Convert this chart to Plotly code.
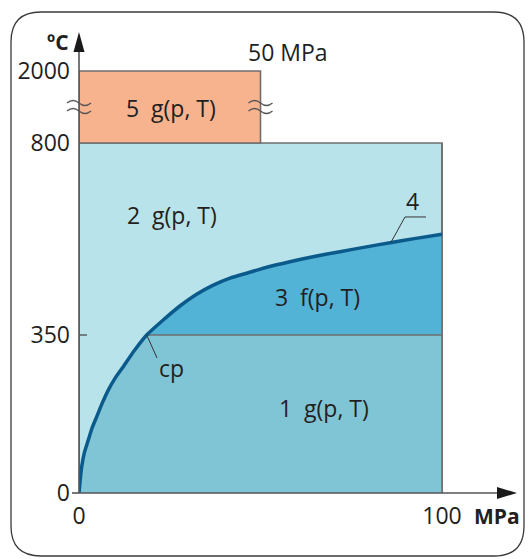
import numpy as np
import plotly.graph_objects as go

# ---------------- data ----------------
# temperature axis is broken: real temperatures -> schematic display scale
T_breaks = [0, 350, 800, 2000]          # °C tick values
T_disp = [0, 158, 350, 422]             # schematic scale positions
y_ticktext = ["0", "350", "800", "2000"]
p_ticks = [0, 100]
p_ticktext = ["0", "100"]

# saturation line (region 4) up to the 350 °C level, then B23 boundary
sat_p = [0.0, 0.35, 0.74, 1.5, 2.56, 3.6, 4.88, 6.4, 8.07, 10.0, 12.2, 15.2, 18.65]
sat_T = [0.0, 30.0, 58.3, 90.0, 117.4, 144.0, 169.0, 199.0, 228.0, 255.0, 279.8, 315.0, 350.0]
b23_p = [18.65, 23.2, 27.8, 32.4, 37.0, 41.6, 46.6, 52.0, 58.1, 64.8, 71.9, 78.8, 85.7, 92.8, 100.0]
b23_T = [350.0, 385.2, 418.0, 445.5, 467.0, 483.5, 496.0, 509.5, 521.8, 534.0, 545.3, 556.0, 566.4, 576.5, 586.0]

p_max = 100      # MPa, regions 1-3
p_max5 = 50      # MPa, region 5
T_max = 800      # °C, regions 1-3
T_max5 = 2000    # °C, region 5
T_13 = 350       # boundary region 1 / 3

labels = ["5&#160; g(p, T)", "2&#160; g(p, T)", "3&#160; f(p, T)", "1&#160; g(p, T)", "cp", "4", "50 MPa"]
label_p = [25.3, 25.6, 65.8, 67.4, 25.6, 92.0, 57.6]
label_T = [1383, 631, 438, 189, 277, 664, 2000]

# ---------------- helpers ----------------
def disp(T):
    return np.interp(np.asarray(T, dtype=float), T_breaks, T_disp)

W, H = 528, 559
ML, MB = 79, 66
PW, PH = W - ML, H - MB
px_per_mpa = 3.63
x_range = [0, PW / px_per_mpa]
y_range = [0, PH]

def pp(x, y):
    """pixel -> paper coords (for decoration only)"""
    return (x - ML) / PW, (H - MB - y) / PH

FONT = "Open Sans"
TXT = "#231f20"
EDGE = "#6e6e6e"
C1, C2, C3, C5 = "#80c5d6", "#b9e3ea", "#52b3d6", "#f7b38e"
CURVE = "#0b5a8c"

fig = go.Figure()

# region 2 background (whole 0..100 MPa, 0..800 °C)
fig.add_trace(go.Scatter(x=[0, p_max, p_max, 0, 0], y=disp([0, 0, T_max, T_max, 0]),
                         fill="toself", fillcolor=C2, mode="lines",
                         line=dict(color=EDGE, width=1.6), hoverinfo="skip"))
# region 1
r1_p = sat_p + [p_max, p_max, 0]
r1_T = sat_T + [T_13, 0, 0]
fig.add_trace(go.Scatter(x=r1_p, y=disp(r1_T), fill="toself", fillcolor=C1,
                         mode="lines", line=dict(width=0), hoverinfo="skip"))
# region 3
r3_p = b23_p + [p_max, b23_p[0]]
r3_T = b23_T + [T_13, T_13]
fig.add_trace(go.Scatter(x=r3_p, y=disp(r3_T), fill="toself", fillcolor=C3,
                         mode="lines", line=dict(width=0), hoverinfo="skip"))
# region 5
fig.add_trace(go.Scatter(x=[0, p_max5, p_max5, 0, 0], y=disp([T_max, T_max, T_max5, T_max5, T_max]),
                         fill="toself", fillcolor=C5, mode="lines",
                         line=dict(color=EDGE, width=1.6), hoverinfo="skip"))
# 350 °C boundary between regions 1 and 3
fig.add_trace(go.Scatter(x=[b23_p[0], p_max], y=disp([T_13, T_13]), mode="lines",
                         line=dict(color=EDGE, width=1.6), hoverinfo="skip"))
# right edge redraw
fig.add_trace(go.Scatter(x=[p_max, p_max], y=disp([0, T_max]), mode="lines",
                         line=dict(color=EDGE, width=1.6), hoverinfo="skip"))
# saturation + B23 curve
fig.add_trace(go.Scatter(x=sat_p + b23_p[1:], y=disp(sat_T + b23_T[1:]), mode="lines",
                         line=dict(color=CURVE, width=3.5, shape="spline", smoothing=0.5),
                         hoverinfo="skip"))
# leader lines
fig.add_trace(go.Scatter(x=[sat_p[-1], 21.5], y=disp([T_13, 299]), mode="lines",
                         line=dict(color="#333333", width=1), hoverinfo="skip"))
fig.add_trace(go.Scatter(x=[86.0, 89.8, 95.6], y=disp([568, 626.6, 626.6]), mode="lines",
                         line=dict(color="#333333", width=1), hoverinfo="skip"))

# region labels
for t, xp, yt in zip(labels, label_p, label_T):
    fig.add_annotation(x=xp, y=float(disp(yt)), text=t, showarrow=False,
                       xanchor="center", yanchor="middle",
                       font=dict(family=FONT, size=23, color=TXT),
                       yshift=(19 if t == "50 MPa" else 0))

shapes = []
# axis-break wave marks
for xp in [0, p_max5]:
    cx = ML + xp * px_per_mpa
    cy = 107
    for dy in (-4, 4):
        a = pp(cx - 12, cy + dy)
        q = pp(cx - 6, cy + dy - 5)
        m = pp(cx, cy + dy)
        e = pp(cx + 12, cy + dy)
        shapes.append(dict(type="path", xref="paper", yref="paper",
                           path=f"M {a[0]},{a[1]} Q {q[0]},{q[1]} {m[0]},{m[1]} T {e[0]},{e[1]}",
                           line=dict(color="#555555", width=1.3)))
# rounded outer frame
x0, y0 = pp(11, 12)
x1, y1 = pp(524, 556)
rx, ry = 30 / PW, 30 / PH
path = (f"M {x0+rx},{y0} L {x1-rx},{y0} Q {x1},{y0} {x1},{y0-ry} "
        f"L {x1},{y1+ry} Q {x1},{y1} {x1-rx},{y1} L {x0+rx},{y1} "
        f"Q {x0},{y1} {x0},{y1+ry} L {x0},{y0-ry} Q {x0},{y0} {x0+rx},{y0} Z")
shapes.append(dict(type="path", xref="paper", yref="paper", path=path,
                   line=dict(color="#3a3a3a", width=1.3)))
# axes with arrowheads
ax0 = pp(79, 493)
axr = pp(500, 493)
shapes.append(dict(type="line", xref="paper", yref="paper", x0=ax0[0], y0=ax0[1],
                   x1=axr[0], y1=axr[1], line=dict(color="#555555", width=1.6)))
axt = pp(79, 48)
shapes.append(dict(type="line", xref="paper", yref="paper", x0=ax0[0], y0=ax0[1],
                   x1=axt[0], y1=axt[1], line=dict(color="#555555", width=1.6)))
a, b, c = pp(517, 493), pp(497, 487), pp(497, 499)
shapes.append(dict(type="path", xref="paper", yref="paper",
                   path=f"M {a[0]},{a[1]} L {b[0]},{b[1]} L {c[0]},{c[1]} Z",
                   fillcolor="#1a1a1a", line=dict(width=0)))
a, b, c = pp(79, 32), pp(73.5, 52), pp(84.5, 52)
shapes.append(dict(type="path", xref="paper", yref="paper",
                   path=f"M {a[0]},{a[1]} L {b[0]},{b[1]} L {c[0]},{c[1]} Z",
                   fillcolor="#1a1a1a", line=dict(width=0)))
# small tick marks
t0a, t0b = pp(72, 493), pp(79, 493)
shapes.append(dict(type="line", xref="paper", yref="paper", x0=t0a[0], y0=t0a[1],
                   x1=t0b[0], y1=t0b[1], line=dict(color="#555555", width=1.6)))
shapes.append(dict(type="line", xref="x", yref="y", x0=0, x1=8 / px_per_mpa,
                   y0=float(disp(350)), y1=float(disp(350)),
                   line=dict(color="#555555", width=1.4)))
fig.update_layout(shapes=shapes)

# axis titles
ux, uy = pp(58, 42)
fig.add_annotation(xref="paper", yref="paper", x=ux, y=uy, text="<b>ºC</b>", showarrow=False,
                   xanchor="center", yanchor="middle",
                   font=dict(family=FONT, size=21, color=TXT))
mx, my = pp(497, 516)
fig.add_annotation(xref="paper", yref="paper", x=mx, y=my, text="<b>MPa</b>", showarrow=False,
                   xanchor="center", yanchor="middle",
                   font=dict(family=FONT, size=21, color=TXT))

fig.update_xaxes(range=x_range, tickvals=p_ticks, ticktext=p_ticktext, showgrid=False,
                 zeroline=False, showline=False, ticks="", ticklabelstandoff=7,
                 tickfont=dict(family=FONT, size=23, color=TXT), fixedrange=True)
fig.update_yaxes(range=y_range, tickvals=list(disp(T_breaks)), ticktext=y_ticktext,
                 showgrid=False, zeroline=False, showline=False, ticks="",
                 ticklabelstandoff=8, tickfont=dict(family=FONT, size=23, color=TXT),
                 fixedrange=True)

fig.update_layout(width=W, height=H, margin=dict(l=ML, r=0, t=0, b=MB),
                  plot_bgcolor="white", paper_bgcolor="white", showlegend=False)

fig.write_html("out.html")
